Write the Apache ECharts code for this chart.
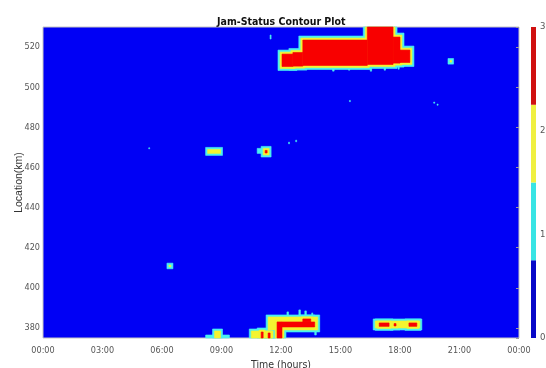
<!DOCTYPE html>
<html>
<head>
<meta charset="utf-8">
<script src="https://cdn.jsdelivr.net/npm/echarts@6/dist/echarts.min.js"></script>
<style>
  html, body { margin: 0; padding: 0; background: #fff; }
  #chart { width: 546px; height: 368px; }
</style>
</head>
<body>
<div id="chart"></div>
<script>
// tick labels
const hourTicks = ['00:00', '03:00', '06:00', '09:00', '12:00', '15:00', '18:00', '21:00', '00:00']
const kmTicks = [380, 400, 420, 440, 460, 480, 500, 520]
const levelTicks = ['0', '1', '2', '3']

// jam patches: [startHour, endHour, lowKm, highKm, level]
const upperJam = [
  [12.05, 12.6, 510.3, 516.5, 3],
  [12.6, 13.1, 510.5, 517.3, 3],
  [13.1, 16.35, 510.8, 523.5, 3],
  [16.35, 17.65, 511.3, 531, 3],
  [17.65, 18.0, 512, 525, 3],
  [18.0, 18.5, 512.3, 518.5, 3],
  [14.6, 14.68, 508, 511, 1],
  [15.4, 15.47, 508.5, 511, 1],
  [16.5, 16.57, 508, 511, 1],
  [17.2, 17.27, 508.5, 511, 1],
  [17.9, 17.96, 509, 512, 1],
  [20.52, 20.6, 512.5, 513.3, 2],
  [11.45, 11.5, 524, 526, 1]
]
const middleSpots = [
  [8.3, 8.95, 467, 469, 2],
  [10.8, 11.1, 467, 469.5, 1],
  [11.2, 11.3, 467.2, 468.5, 3],
  [6.35, 6.45, 410.5, 411.3, 2],
  [5.33, 5.38, 469.3, 469.8, 1],
  [12.38, 12.43, 471.8, 472.6, 1],
  [12.74, 12.79, 472.8, 473.6, 1],
  [15.45, 15.5, 492.8, 493.4, 1],
  [19.7, 19.75, 492, 492.6, 1],
  [19.87, 19.92, 491, 491.6, 1]
]
const lowerJam = [
  [8.2, 9.4, 375, 376.5, 1],
  [8.65, 8.95, 375, 378.5, 2],
  [10.5, 11.6, 375, 378.5, 2],
  [11.0, 11.1, 375, 378, 3],
  [11.35, 11.45, 375, 377.5, 3],
  [11.35, 13.85, 379, 385.5, 2],
  [12.3, 12.38, 385, 388, 1],
  [12.9, 12.98, 385, 389, 1],
  [13.2, 13.28, 385, 388.5, 1],
  [13.55, 13.6, 385, 387.5, 1],
  [13.7, 13.78, 376.5, 379, 1],
  [11.8, 12.05, 375, 383, 3],
  [12.05, 13.7, 380.5, 383, 3],
  [13.1, 13.5, 383, 384.5, 3],
  [16.75, 19.0, 380, 383.5, 2],
  [16.95, 17.45, 380.8, 382.5, 3],
  [17.7, 17.8, 381, 382.2, 3],
  [18.45, 18.85, 380.8, 382.5, 3]
]
const jamPatches = upperJam.concat(middleSpots, lowerJam)

// colour bar: four equal bands between 0 and 3
const colorbarSteps = [0.75, 0.75, 0.75, 0.75]

const plotColors = ['#0000f5', '#4af0f0', '#f4f430', '#f80000']
const barColors = ['#0808c8', '#38e4e4', '#f0f040', '#d01010']
const HALO = 2
const narrow = "'Liberation Sans Narrow', 'DejaVu Sans Condensed', 'Liberation Sans', Arial, sans-serif"

const chart = echarts.init(document.getElementById('chart'))

function contourSeries(k) {
  return {
    type: 'custom',
    xAxisIndex: 0,
    yAxisIndex: 0,
    silent: true,
    data: jamPatches.filter((p) => p[4] >= k),
    encode: { x: [0, 1], y: [2, 3] },
    renderItem: function (params, api) {
      const pad = (api.value(4) - k) * HALO
      const p0 = api.coord([api.value(0), api.value(3)])
      const p1 = api.coord([api.value(1), api.value(2)])
      const cs = params.coordSys
      const shape = echarts.graphic.clipRectByRect(
        { x: p0[0] - pad, y: p0[1] - pad, width: p1[0] - p0[0] + 2 * pad, height: p1[1] - p0[1] + 2 * pad },
        { x: cs.x, y: cs.y, width: cs.width, height: cs.height }
      )
      if (!shape) return
      return {
        type: 'rect',
        shape: shape,
        style: { fill: plotColors[k], stroke: plotColors[k], lineWidth: 0.6 }
      }
    }
  }
}

const option = {
  animation: false,
  title: {
    text: 'Jam-Status Contour Plot',
    left: 212,
    top: 12,
    textStyle: { fontFamily: narrow, fontSize: 10.5, fontWeight: 'bold', color: '#111' }
  },
  grid: [
    {
      left: 43, right: 27, top: 27, bottom: 30,
      outerBoundsMode: 'none',
      show: true, backgroundColor: plotColors[0], borderColor: '#c4c4c4', borderWidth: 1
    },
    { left: 531, width: 5, top: 27, bottom: 30, outerBoundsMode: 'none' }
  ],
  xAxis: [
    {
      type: 'value',
      gridIndex: 0,
      min: 0,
      max: 24,
      interval: 3,
      name: 'Time (hours)',
      nameLocation: 'middle',
      nameGap: 22,
      nameMoveOverlap: false,
      nameTextStyle: { fontFamily: narrow, fontSize: 10.5, color: '#333' },
      axisLine: { show: false },
      axisTick: { show: false },
      splitLine: { show: false },
      axisLabel: {
        margin: 8,
        fontFamily: narrow,
        fontSize: 9,
        color: '#555',
        formatter: (v) => hourTicks[Math.round(v / 3)]
      }
    },
    {
      type: 'category',
      gridIndex: 1,
      data: [''],
      show: false
    }
  ],
  yAxis: [
    {
      type: 'value',
      gridIndex: 0,
      min: 375,
      max: 530,
      splitNumber: 8,
      name: 'Location(km)',
      nameLocation: 'middle',
      nameGap: 18,
      nameMoveOverlap: false,
      nameTextStyle: { fontFamily: "'Liberation Sans', Arial, sans-serif", fontSize: 10.5, color: '#333' },
      axisLine: { show: false },
      axisTick: { show: false },
      splitLine: { show: false },
      axisLabel: {
        margin: 3,
        fontFamily: narrow,
        fontSize: 9,
        color: '#555',
        formatter: (v) => (kmTicks.includes(v) ? String(v) : '')
      }
    },
    {
      type: 'value',
      gridIndex: 0,
      position: 'right',
      min: 375,
      max: 530,
      splitNumber: 8,
      axisLine: { show: false },
      axisLabel: { show: false },
      splitLine: { show: false },
      axisTick: { show: true, inside: true, length: 3, lineStyle: { color: '#9a9a9a' } }
    },
    {
      type: 'value',
      gridIndex: 1,
      position: 'right',
      min: 0,
      max: 3,
      interval: 1,
      axisLine: { show: false },
      axisTick: { show: false },
      splitLine: { show: false },
      axisLabel: {
        margin: 4,
        fontFamily: narrow,
        fontSize: 9.5,
        color: '#555',
        formatter: (v) => levelTicks[Math.round(v)]
      }
    }
  ],
  series: [1, 2, 3].map(contourSeries).concat(
    colorbarSteps.map((step, i) => ({
      type: 'bar',
      xAxisIndex: 1,
      yAxisIndex: 2,
      stack: 'bar',
      barWidth: '100%',
      silent: true,
      data: [step],
      itemStyle: { color: barColors[i] }
    }))
  )
}

chart.setOption(option)
</script>
</body>
</html>
